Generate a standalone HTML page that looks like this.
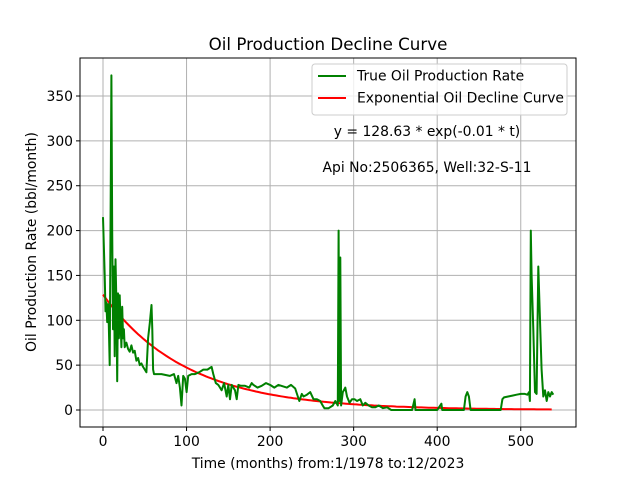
<!DOCTYPE html>
<html><head><meta charset="utf-8"><style>
body{margin:0;background:#fff}
text{font-family:"DejaVu Sans","Liberation Sans",sans-serif;fill:#000}
</style></head><body>
<svg width="640" height="480" xmlns="http://www.w3.org/2000/svg">
<g id="grid"></g>
<g id="ticks"></g>
<polyline id="red" fill="none" stroke="#ff0000" stroke-width="2"/>
<polyline id="green" fill="none" stroke="#008000" stroke-width="2" stroke-linejoin="round"/>
<rect x="80" y="58" width="496" height="369" fill="none" stroke="#000" stroke-width="1"/>
<text x="328" y="50" font-size="16.7" text-anchor="middle">Oil Production Decline Curve</text>
<text x="328" y="468" font-size="13.9" text-anchor="middle">Time (months) from:1/1978 to:12/2023</text>
<text transform="translate(36,242) rotate(-90)" font-size="13.9" text-anchor="middle">Oil Production Rate (bbl/month)</text>
<g>
<rect x="312" y="64" width="255" height="51" rx="3" fill="#fff" fill-opacity="0.8" stroke="#ccc"/>
<line x1="318" y1="76" x2="346" y2="76" stroke="#008000" stroke-width="2"/>
<text x="357" y="80.5" font-size="13.9">True Oil Production Rate</text>
<line x1="318" y1="98" x2="346" y2="98" stroke="#ff0000" stroke-width="2"/>
<text x="357" y="102.5" font-size="13.9">Exponential Oil Decline Curve</text>
</g>
<text x="427" y="136" font-size="13.9" text-anchor="middle">y = 128.63 * exp(-0.01 * t)</text>
<text x="427" y="172" font-size="13.9" text-anchor="middle">Api No:2506365, Well:32-S-11</text>
</svg>
<script>
const months=[0,2,3,4,5,6,7,8,9,10,11,12,13,14,15,16,17,18,19,20,21,22,23,24,25,26,28,30,32,34,36,38,40,42,44,46,48,50,52,54,56,58,59,60,61,70,80,85,88,90,92,94,96,98,100,102,106,110,115,120,125,130,132,135,138,140,142,145,148,150,152,154,158,160,162,165,170,175,178,180,185,190,195,200,205,210,220,225,230,235,238,240,244,248,252,256,260,263,265,270,275,278,281,282,283,284,285,287,290,292,295,298,301,304,308,311,314,318,322,326,330,335,340,345,350,360,370,373,374,380,390,400,405,406,420,432,434,436,438,440,460,476,478,480,485,490,495,500,505,508,510,511,512,513,515,517,519,521,523,525,527,529,531,533,535,537,539];
const rates=[215,150,110,120,98,118,95,50,200,373,200,90,160,60,168,120,32,130,80,128,100,70,115,80,90,70,75,68,65,72,64,66,55,58,50,52,48,45,42,80,97,117,90,45,40,40,38,40,30,38,25,5,38,35,20,38,40,40,42,45,45,48,40,30,28,25,22,30,15,28,12,28,22,12,28,27,27,25,30,28,25,27,30,28,25,28,25,28,24,10,18,15,17,20,12,12,10,5,2,2,5,10,5,200,10,170,5,20,25,15,8,12,12,10,12,5,8,5,3,3,5,2,3,0,0,0,0,12,0,0,0,0,7,0,0,0,15,20,15,0,0,0,12,14,15,16,17,18,18,17,20,10,200,150,90,20,18,160,100,45,15,22,10,20,15,20,17];
const xTicks=[0,100,200,300,400,500];
const yTicks=[0,50,100,150,200,250,300,350];
const fitA=128.63, fitK=0.01, fitEnd=539;
const X=v=>103+v*0.8355, Y=v=>410-v*0.8971;
const ns="http://www.w3.org/2000/svg";
const grid=document.getElementById('grid'), ticks=document.getElementById('ticks');
function mk(tag,attrs,parent){const e=document.createElementNS(ns,tag);for(const k in attrs)e.setAttribute(k,attrs[k]);parent.appendChild(e);return e;}
xTicks.forEach(t=>{
  const g=mk('line',{x1:X(t),x2:X(t),y1:58,y2:427,stroke:'#b0b0b0','stroke-width':1},grid);
  
  
  const tk=mk('line',{x1:X(t),x2:X(t),y1:427,y2:431,stroke:'#000'},ticks);
  
  
  const tx=mk('text',{x:X(t),y:446,'font-size':13.9,'text-anchor':'middle'},ticks);
  tx.textContent=t;
  
  
});
yTicks.forEach(t=>{
  const g=mk('line',{x1:80,x2:576,y1:Y(t),y2:Y(t),stroke:'#b0b0b0','stroke-width':1},grid);
  
  
  const tk=mk('line',{x1:76,x2:80,y1:Y(t),y2:Y(t),stroke:'#000'},ticks);
  
  
  const tx=mk('text',{x:73,y:Y(t)+5,'font-size':13.9,'text-anchor':'end'},ticks);
  tx.textContent=t;
  
  
});
document.getElementById('green').setAttribute('points',months.map((m,i)=>X(m).toFixed(1)+','+Y(rates[i]).toFixed(1)).join(' '));
const rp=[];for(let t=0;t<=fitEnd;t+=3)rp.push(X(t).toFixed(1)+','+Y(fitA*Math.exp(-fitK*t)).toFixed(1));
document.getElementById('red').setAttribute('points',rp.join(' '));
</script>
</body></html>
